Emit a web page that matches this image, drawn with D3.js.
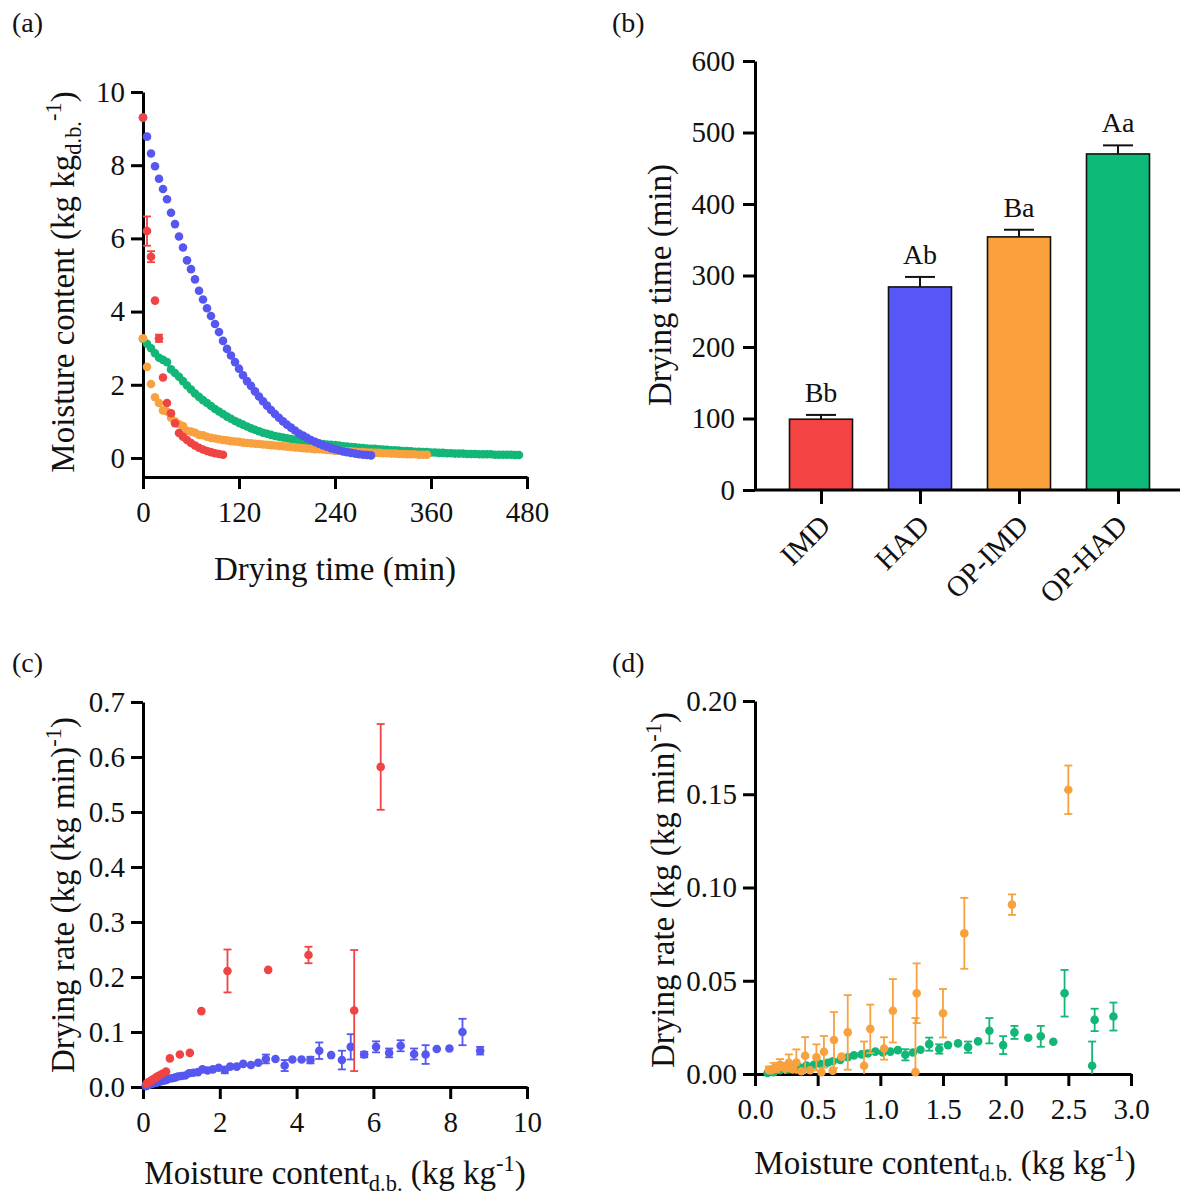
<!DOCTYPE html>
<html>
<head>
<meta charset="utf-8">
<script src="https://cdn.jsdelivr.net/npm/d3@7"></script>
<style>
  html, body { margin: 0; padding: 0; background: #fff; }
  svg { display: block; }
</style>
</head>
<body>
<script>
// ---------- data ----------
// (a) moisture content (kg/kg d.b.) sampled every 5 min
const timeStepMin = 5;
const imdMC = [9.30, 6.20, 5.50, 4.30, 3.27, 2.20, 1.50, 1.22, 0.95, 0.68,
  0.58, 0.49, 0.41, 0.34, 0.28, 0.23, 0.19, 0.16, 0.13, 0.11, 0.09];
const imdSD = [0, 0.40, 0.15, 0, 0.10];
const hadMC = [9.30, 8.78, 8.32, 7.97, 7.63, 7.35, 7.07, 6.70, 6.39, 6.05,
  5.75, 5.40, 5.16, 4.88, 4.57, 4.33, 4.09, 3.88, 3.66, 3.44,
  3.20, 2.98, 2.80, 2.62, 2.44, 2.26, 2.10, 1.97, 1.82, 1.68,
  1.55, 1.43, 1.31, 1.20, 1.10, 1.00, 0.91, 0.83, 0.75, 0.67,
  0.61, 0.55, 0.49, 0.44, 0.39, 0.35, 0.31, 0.27, 0.24, 0.21,
  0.18, 0.16, 0.14, 0.12, 0.10, 0.09, 0.08, 0.07];
const opImdMC = [3.27, 2.49, 2.02, 1.66, 1.50, 1.30, 1.27, 1.10, 1.00, 0.92,
  0.87, 0.74, 0.72, 0.69, 0.63, 0.62, 0.58, 0.55, 0.53, 0.51,
  0.49, 0.48, 0.46, 0.45, 0.44, 0.42, 0.41, 0.40, 0.39, 0.38,
  0.37, 0.36, 0.35, 0.34, 0.33, 0.32, 0.31, 0.30, 0.29, 0.28,
  0.27, 0.26, 0.25, 0.24, 0.24, 0.23, 0.22, 0.21, 0.20, 0.20,
  0.19, 0.18, 0.18, 0.17, 0.16, 0.16, 0.15, 0.15, 0.14, 0.14,
  0.13, 0.13, 0.12, 0.12, 0.11, 0.11, 0.10, 0.10, 0.10, 0.09,
  0.09, 0.09];
const opHadMC = [3.25, 3.12, 3.00, 2.86, 2.74, 2.68, 2.62, 2.42, 2.32, 2.22,
  2.10, 1.98, 1.87, 1.76, 1.67, 1.58, 1.50, 1.42, 1.34, 1.27,
  1.20, 1.13, 1.07, 1.01, 0.96, 0.91, 0.86, 0.81, 0.77, 0.73,
  0.69, 0.66, 0.63, 0.60, 0.58, 0.56, 0.54, 0.52, 0.50, 0.48,
  0.46, 0.44, 0.43, 0.41, 0.40, 0.38, 0.37, 0.36, 0.35, 0.34,
  0.32, 0.31, 0.30, 0.29, 0.28, 0.27, 0.26, 0.25, 0.25, 0.24,
  0.23, 0.22, 0.21, 0.21, 0.20, 0.19, 0.19, 0.18, 0.17, 0.17,
  0.16, 0.16, 0.15, 0.15, 0.14, 0.14, 0.13, 0.13, 0.12, 0.12,
  0.12, 0.11, 0.11, 0.11, 0.10, 0.10, 0.10, 0.10, 0.09, 0.09,
  0.09, 0.09, 0.09, 0.08, 0.08];

// (b) total drying time (min)
const methods = ["IMD", "HAD", "OP-IMD", "OP-HAD"];
const dryingTime = [99, 284, 354, 470];
const dryingTimeSD = [6, 14, 10, 12];
const groupLetters = ["Bb", "Ab", "Ba", "Aa"];

// (c) drying rate vs moisture content, IMD and HAD
const imdRateMC = [6.19, 5.50, 4.31, 3.26, 2.20, 1.52, 1.22, 0.96, 0.70, 0.60,
  0.50, 0.42, 0.35, 0.29, 0.24, 0.20, 0.16, 0.13, 0.11, 0.09];
const imdRate = [0.582, 0.139, 0.240, 0.213, 0.211, 0.138, 0.062, 0.059, 0.052, 0.028,
  0.024, 0.021, 0.018, 0.015, 0.013, 0.011, 0.009, 0.008, 0.007, 0.006];
const imdRateSD = [0.078, 0.110, 0.015, 0, 0.039];
const hadRateMC = [8.78, 8.32, 7.98, 7.65, 7.36, 7.06, 6.71, 6.41, 6.07, 5.76,
  5.41, 5.18, 4.90, 4.59, 4.36, 4.13, 3.89, 3.69, 3.45, 3.20,
  3.00, 2.81, 2.61, 2.44, 2.27, 2.13, 1.97, 1.82, 1.68, 1.55,
  1.43, 1.31, 1.20, 1.10, 1.00, 0.91, 0.83, 0.75, 0.67, 0.61,
  0.55, 0.49, 0.44, 0.39, 0.35, 0.31, 0.27, 0.24, 0.21, 0.18,
  0.16, 0.14, 0.12, 0.10, 0.09, 0.08, 0.07];
const hadRate = [0.066, 0.100, 0.070, 0.069, 0.059, 0.060, 0.075, 0.062, 0.073, 0.059,
  0.073, 0.049, 0.058, 0.066, 0.049, 0.050, 0.050, 0.039, 0.051, 0.051,
  0.044, 0.040, 0.042, 0.037, 0.037, 0.031, 0.035, 0.032, 0.030, 0.032,
  0.027, 0.026, 0.025, 0.021, 0.020, 0.019, 0.017, 0.016, 0.015, 0.013,
  0.012, 0.011, 0.010, 0.009, 0.008, 0.008, 0.007, 0.006, 0.006, 0.005,
  0.004, 0.004, 0.004, 0.003, 0.002, 0.002, 0.002];
const hadRateSD = [0.007, 0.024, 0, 0, 0.017, 0.010, 0.010, 0.008, 0.010, 0.005,
  0.023, 0.017, 0, 0.015, 0.006, 0, 0, 0.010, 0, 0.008,
  0, 0, 0, 0, 0, 0.006];

// (d) drying rate vs moisture content, OP-IMD and OP-HAD
const opImdRateMC = [2.50, 2.05, 1.67, 1.50, 1.29, 1.28, 1.10, 1.03, 0.92, 0.87,
  0.74, 0.69, 0.63, 0.62, 0.55, 0.53, 0.49, 0.44, 0.40, 0.37,
  0.33, 0.30, 0.27, 0.24, 0.20, 0.17, 0.15, 0.13, 0.11];
const opImdRate = [0.1524, 0.0908, 0.0754, 0.0326, 0.0433, 0.0010, 0.0339, 0.0137, 0.0242, 0.0044,
  0.0223, 0.0093, 0.0182, 0.0018, 0.0119, 0.0010, 0.0089, 0.0020, 0.0098, 0.0015,
  0.0062, 0.0025, 0.0060, 0.0030, 0.0050, 0.0030, 0.0030, 0.0020, 0.0020];
const opImdRateSD = [0.0130, 0.0055, 0.0190, 0.0130, 0.0160, 0.0290, 0.0170, 0.0060, 0.0130, 0.0130,
  0.0200, 0, 0.0150, 0, 0.0085, 0, 0.0070, 0, 0.0100, 0,
  0.0070, 0, 0.0045, 0.0030, 0.0030, 0.0020, 0.0030, 0.0020, 0.0020];
const opHadRateMC = [2.86, 2.71, 2.69, 2.47, 2.38, 2.28, 2.18, 2.07, 1.98, 1.87,
  1.78, 1.70, 1.62, 1.54, 1.47, 1.39, 1.32, 1.26, 1.20, 1.14,
  1.08, 1.02, 0.96, 0.90, 0.85, 0.79, 0.74, 0.68, 0.62, 0.58,
  0.52, 0.47, 0.41, 0.36, 0.31, 0.26, 0.20, 0.15, 0.10];
const opHadRate = [0.0308, 0.0290, 0.0044, 0.0433, 0.0173, 0.0202, 0.0194, 0.0223, 0.0155, 0.0232,
  0.0175, 0.0144, 0.0164, 0.0155, 0.0134, 0.0160, 0.0130, 0.0115, 0.0103, 0.0128,
  0.0120, 0.0115, 0.0120, 0.0110, 0.0105, 0.0100, 0.0090, 0.0075, 0.0068, 0.0060,
  0.0055, 0.0050, 0.0045, 0.0035, 0.0030, 0.0025, 0.0020, 0.0010, 0.0005];
const opHadRateSD = [0.0075, 0.0060, 0.0130, 0.0125, 0, 0.0056, 0, 0.0035, 0.0048, 0.0068,
  0, 0.0030, 0, 0, 0.0025, 0.0035, 0, 0, 0.0030];

// ---------- styling ----------
const COLORS = { IMD: "#F04444", HAD: "#5656F0", "OP-IMD": "#F8A13F", "OP-HAD": "#12B677" };
const BAR_COLORS = { IMD: "#F44343", HAD: "#5757F7", "OP-IMD": "#FAA13E", "OP-HAD": "#0DBA78" };
const FONT = "'Liberation Serif','Times New Roman',Times,serif";
const TICK_FS = 29, TITLE_FS = 33, DOT_R = 4.3;

const svg = d3.select("body").append("svg")
  .attr("width", 1188).attr("height", 1198)
  .style("background", "#fff");

function styleAxis(g) {
  g.select(".domain").attr("stroke", "#000").attr("stroke-width", 3);
  g.selectAll(".tick line").attr("stroke", "#000").attr("stroke-width", 3);
  g.selectAll(".tick text").attr("font-family", FONT).attr("font-size", TICK_FS).attr("fill", "#111");
}

// text with inline sub/superscripts; parts: [text, kind]
function richText(g, parts, attrs) {
  const t = g.append("text").attr("font-family", FONT).attr("font-size", TITLE_FS).attr("fill", "#111");
  Object.entries(attrs).forEach(([k, v]) => t.attr(k, v));
  let shift = 0;
  parts.forEach(([s, kind]) => {
    const target = kind === "sub" ? 7 : kind === "sup" ? -13 : 0;
    const sp = t.append("tspan").text(s).attr("dy", target - shift);
    if (kind !== "normal") sp.attr("font-size", TITLE_FS * 0.68);
    shift = target;
  });
  return t;
}

function panelLabel(x, y, s) {
  svg.append("text").attr("x", x).attr("y", y).text(s)
    .attr("font-family", FONT).attr("font-size", 28).attr("fill", "#111");
}

function dots(g, data, x, y, color) {
  g.selectAll(null).data(data).join("circle")
    .attr("cx", d => x(d.x)).attr("cy", d => y(d.y)).attr("r", DOT_R).attr("fill", color);
}

function errorBars(g, data, x, y, color, capHalf, width) {
  const eb = data.filter(d => d.sd > 0);
  const grp = g.append("g").attr("stroke", color).attr("stroke-width", width).attr("fill", "none");
  grp.selectAll(null).data(eb).join("line")
    .attr("x1", d => x(d.x)).attr("x2", d => x(d.x))
    .attr("y1", d => y(Math.max(0, d.y - d.sd))).attr("y2", d => y(d.y + d.sd));
  grp.selectAll(null).data(eb).join("line")
    .attr("x1", d => x(d.x) - capHalf).attr("x2", d => x(d.x) + capHalf)
    .attr("y1", d => y(d.y + d.sd)).attr("y2", d => y(d.y + d.sd));
  grp.selectAll(null).data(eb.filter(d => d.y - d.sd > 0)).join("line")
    .attr("x1", d => x(d.x) - capHalf).attr("x2", d => x(d.x) + capHalf)
    .attr("y1", d => y(d.y - d.sd)).attr("y2", d => y(d.y - d.sd));
}

const timeSeries = (vals, sd) => vals.map((v, i) => ({ x: i * timeStepMin, y: v, sd: (sd && sd[i]) || 0 }));
const xySeries = (xs, ys, sd) => xs.map((v, i) => ({ x: v, y: ys[i], sd: (sd && sd[i]) || 0 }));

// ---------- (a) drying curves ----------
{
  const g = svg.append("g");
  const x = d3.scaleLinear().domain([0, 480]).range([143, 527]);
  const y = d3.scaleLinear().domain([-0.52, 10]).range([477, 92]);
  g.append("g").attr("transform", "translate(0,477)")
    .call(d3.axisBottom(x).tickValues([0, 120, 240, 360, 480]).tickSize(12).tickSizeOuter(0).tickPadding(12))
    .call(styleAxis);
  g.append("g").attr("transform", "translate(143,0)")
    .call(d3.axisLeft(y).tickValues([0, 2, 4, 6, 8, 10]).tickSize(12).tickSizeOuter(0).tickPadding(6))
    .call(styleAxis);
  const order = [["OP-HAD", opHadMC], ["OP-IMD", opImdMC], ["HAD", hadMC]];
  order.forEach(([k, vals]) => dots(g, timeSeries(vals), x, y, COLORS[k]));
  const imd = timeSeries(imdMC, imdSD);
  errorBars(g, imd, x, y, COLORS.IMD, 4, 1.8);
  dots(g, imd, x, y, COLORS.IMD);

  g.append("text").attr("x", 335).attr("y", 580).attr("text-anchor", "middle")
    .attr("font-family", FONT).attr("font-size", TITLE_FS).attr("fill", "#111").text("Drying time (min)");
  richText(g, [["Moisture content (kg kg", "normal"], ["d.b.", "sub"], ["-1", "sup"], [")", "normal"]],
    { transform: "translate(74,282) rotate(-90)", "text-anchor": "middle" });
  panelLabel(12, 32, "(a)");
}

// ---------- (b) drying time bars ----------
{
  const g = svg.append("g");
  const y = d3.scaleLinear().domain([0, 600]).range([490, 61]);
  const x = d3.scalePoint().domain(methods).range([821, 1118]);
  const barW = 63;
  g.append("g").attr("transform", "translate(755,0)")
    .call(d3.axisLeft(y).tickValues([0, 100, 200, 300, 400, 500, 600]).tickSize(12).tickSizeOuter(0).tickPadding(8))
    .call(styleAxis);
  g.selectAll(null).data(methods).join("rect")
    .attr("x", d => x(d) - barW / 2).attr("width", barW)
    .attr("y", (d, i) => y(dryingTime[i])).attr("height", (d, i) => y(0) - y(dryingTime[i]))
    .attr("fill", d => BAR_COLORS[d]).attr("stroke", "#111").attr("stroke-width", 1.6);
  // upward error bars
  const eg = g.append("g").attr("stroke", "#111").attr("stroke-width", 2);
  eg.selectAll(null).data(methods).join("line")
    .attr("x1", d => x(d)).attr("x2", d => x(d))
    .attr("y1", (d, i) => y(dryingTime[i])).attr("y2", (d, i) => y(dryingTime[i] + dryingTimeSD[i]));
  eg.selectAll(null).data(methods).join("line")
    .attr("x1", d => x(d) - 15).attr("x2", d => x(d) + 15)
    .attr("y1", (d, i) => y(dryingTime[i] + dryingTimeSD[i])).attr("y2", (d, i) => y(dryingTime[i] + dryingTimeSD[i]));
  g.selectAll(null).data(methods).join("text")
    .attr("x", d => x(d)).attr("y", (d, i) => y(dryingTime[i] + dryingTimeSD[i]) - 13)
    .attr("text-anchor", "middle").attr("font-family", FONT).attr("font-size", 28).attr("fill", "#111")
    .text((d, i) => groupLetters[i]);
  // category axis
  const xa = g.append("g").attr("transform", "translate(0,490)")
    .call(d3.axisBottom(x).tickSize(14).tickSizeOuter(0).tickFormat(() => ""));
  xa.select(".domain").remove();
  xa.call(styleAxis);
  g.append("line").attr("x1", 755).attr("x2", 1180).attr("y1", 490).attr("y2", 490)
    .attr("stroke", "#000").attr("stroke-width", 3);
  g.selectAll(null).data(methods).join("text")
    .attr("transform", d => `translate(${x(d) + 4},${520}) rotate(-45)`)
    .attr("text-anchor", "end").attr("dy", "0.35em")
    .attr("font-family", FONT).attr("font-size", TICK_FS).attr("fill", "#111").text(d => d);

  g.append("text").attr("transform", "translate(671,285) rotate(-90)").attr("text-anchor", "middle")
    .attr("font-family", FONT).attr("font-size", TITLE_FS).attr("fill", "#111").text("Drying time (min)");
  panelLabel(612, 32, "(b)");
}

// ---------- (c) drying rate, IMD & HAD ----------
{
  const g = svg.append("g");
  const x = d3.scaleLinear().domain([0, 10]).range([143, 527]);
  const y = d3.scaleLinear().domain([0, 0.7]).range([1087, 702]);
  g.append("g").attr("transform", "translate(0,1087)")
    .call(d3.axisBottom(x).tickValues([0, 2, 4, 6, 8, 10]).tickSize(12).tickSizeOuter(0).tickPadding(12))
    .call(styleAxis);
  g.append("g").attr("transform", "translate(143,0)")
    .call(d3.axisLeft(y).tickValues([0, 0.1, 0.2, 0.3, 0.4, 0.5, 0.6, 0.7]).tickFormat(d3.format(".1f"))
      .tickSize(12).tickSizeOuter(0).tickPadding(6))
    .call(styleAxis);
  const had = xySeries(hadRateMC, hadRate, hadRateSD);
  const imd = xySeries(imdRateMC, imdRate, imdRateSD);
  errorBars(g, had, x, y, COLORS.HAD, 4, 1.8);
  dots(g, had, x, y, COLORS.HAD);
  errorBars(g, imd, x, y, COLORS.IMD, 4, 1.8);
  dots(g, imd, x, y, COLORS.IMD);

  richText(g, [["Moisture content", "normal"], ["d.b.", "sub"], [" (kg kg", "normal"], ["-1", "sup"], [")", "normal"]],
    { x: 335, y: 1184, "text-anchor": "middle" });
  richText(g, [["Drying rate (kg (kg min)", "normal"], ["-1", "sup"], [")", "normal"]],
    { transform: "translate(74,895) rotate(-90)", "text-anchor": "middle" });
  panelLabel(12, 672, "(c)");
}

// ---------- (d) drying rate, OP-IMD & OP-HAD ----------
{
  const g = svg.append("g");
  const x = d3.scaleLinear().domain([0, 3]).range([755, 1131]);
  const y = d3.scaleLinear().domain([0, 0.2]).range([1074, 701]);
  g.append("g").attr("transform", "translate(0,1074)")
    .call(d3.axisBottom(x).tickValues([0, 0.5, 1, 1.5, 2, 2.5, 3]).tickFormat(d3.format(".1f"))
      .tickSize(12).tickSizeOuter(0).tickPadding(12))
    .call(styleAxis);
  g.append("g").attr("transform", "translate(755,0)")
    .call(d3.axisLeft(y).tickValues([0, 0.05, 0.1, 0.15, 0.2]).tickFormat(d3.format(".2f"))
      .tickSize(12).tickSizeOuter(0).tickPadding(6))
    .call(styleAxis);
  const opHad = xySeries(opHadRateMC, opHadRate, opHadRateSD);
  const opImd = xySeries(opImdRateMC, opImdRate, opImdRateSD);
  errorBars(g, opHad, x, y, COLORS["OP-HAD"], 4, 1.8);
  dots(g, opHad, x, y, COLORS["OP-HAD"]);
  errorBars(g, opImd, x, y, COLORS["OP-IMD"], 4, 1.8);
  dots(g, opImd, x, y, COLORS["OP-IMD"]);

  richText(g, [["Moisture content", "normal"], ["d.b.", "sub"], [" (kg kg", "normal"], ["-1", "sup"], [")", "normal"]],
    { x: 945, y: 1174, "text-anchor": "middle" });
  richText(g, [["Drying rate (kg (kg min)", "normal"], ["-1", "sup"], [")", "normal"]],
    { transform: "translate(674,890) rotate(-90)", "text-anchor": "middle" });
  panelLabel(612, 672, "(d)");
}
</script>
</body>
</html>
